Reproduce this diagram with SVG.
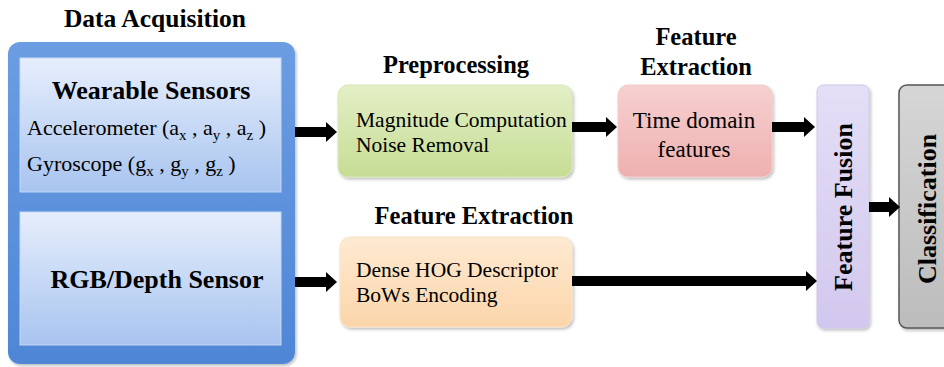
<svg xmlns="http://www.w3.org/2000/svg" width="944" height="367" viewBox="0 0 944 367">
<defs>
<linearGradient id="gOuter" x1="0" y1="0" x2="0" y2="1"><stop offset="0" stop-color="#6b9de2"/><stop offset="1" stop-color="#4f86d6"/></linearGradient>
<linearGradient id="gInner" x1="0" y1="0" x2="0" y2="1"><stop offset="0" stop-color="#e6eefc"/><stop offset="1" stop-color="#a8c4ef"/></linearGradient>
<linearGradient id="gGreen" x1="0" y1="0" x2="0" y2="1"><stop offset="0" stop-color="#e3efc6"/><stop offset="1" stop-color="#c6dd94"/></linearGradient>
<linearGradient id="gOrange" x1="0" y1="0" x2="0" y2="1"><stop offset="0" stop-color="#feead2"/><stop offset="1" stop-color="#fbd5aa"/></linearGradient>
<linearGradient id="gPink" x1="0" y1="0" x2="0" y2="1"><stop offset="0" stop-color="#f7d0d0"/><stop offset="1" stop-color="#eeb0b0"/></linearGradient>
<linearGradient id="gLav" x1="0" y1="0" x2="0" y2="1"><stop offset="0" stop-color="#e4def6"/><stop offset="1" stop-color="#d2c8ee"/></linearGradient>
<linearGradient id="gGray" x1="0" y1="0" x2="0" y2="1"><stop offset="0" stop-color="#d6d6d6"/><stop offset="1" stop-color="#bcbcbc"/></linearGradient>
<filter id="sh" x="-10%" y="-10%" width="125%" height="125%"><feDropShadow dx="1.5" dy="2" stdDeviation="1.5" flood-color="#000" flood-opacity="0.25"/></filter>
<marker id="ah" markerUnits="userSpaceOnUse" markerWidth="12" markerHeight="22" refX="0" refY="11" orient="auto"><path d="M0,1 L11,11 L0,21 Z" fill="#000"/></marker>
</defs>
<style>
.hdr{font-family:"Liberation Serif","Times New Roman",serif;font-weight:bold;font-size:24.5px;fill:#000;text-anchor:middle}
.big{font-family:"Liberation Serif","Times New Roman",serif;font-weight:bold;font-size:26px;fill:#000;text-anchor:middle}
.txt{font-family:"Liberation Serif","Times New Roman",serif;font-size:21.5px;fill:#000}
.sub{font-size:15px}
.rot{font-family:"Liberation Serif","Times New Roman",serif;font-weight:bold;font-size:26px;fill:#000;text-anchor:middle}
.conn line{stroke:#000;stroke-width:10;marker-end:url(#ah)}
</style>

<g id="data-acquisition">
<text class="hdr" x="155" y="27" style="font-size:25.5px">Data Acquisition</text>
<rect x="8" y="42" width="287" height="322" rx="12" fill="url(#gOuter)" filter="url(#sh)"/>
</g>
<g id="wearable-sensors">
<rect x="20" y="58" width="261" height="134" fill="url(#gInner)" stroke="#c6d8f5" stroke-width="1"/>
<text class="big" x="151" y="99">Wearable Sensors</text>
<text class="txt" x="27" y="135" style="font-size:22px">Accelerometer (a<tspan class="sub" dy="5">x</tspan><tspan dy="-5"> , a</tspan><tspan class="sub" dy="5">y</tspan><tspan dy="-5"> , a</tspan><tspan class="sub" dy="5">z</tspan><tspan dy="-5"> )</tspan></text>
<text class="txt" x="27" y="171" style="font-size:22px">Gyroscope (g<tspan class="sub" dy="5">x</tspan><tspan dy="-5"> , g</tspan><tspan class="sub" dy="5">y</tspan><tspan dy="-5"> , g</tspan><tspan class="sub" dy="5">z</tspan><tspan dy="-5"> )</tspan></text>
</g>
<g id="rgb-depth-sensor">
<rect x="20" y="212" width="261" height="133" fill="url(#gInner)" stroke="#c6d8f5" stroke-width="1"/>
<text class="big" x="157" y="288">RGB/Depth Sensor</text>
</g>

<g id="preprocessing">
<text class="hdr" x="456" y="73">Preprocessing</text>
<rect x="338" y="85" width="234" height="92" rx="10" fill="url(#gGreen)" stroke="#d6e6b4" filter="url(#sh)"/>
<text class="txt" x="356" y="127">Magnitude Computation</text>
<text class="txt" x="356" y="152">Noise Removal</text>
</g>

<g id="feature-extraction-visual">
<text class="hdr" x="474" y="224">Feature Extraction</text>
<rect x="340" y="237" width="232" height="90" rx="10" fill="url(#gOrange)" stroke="#fbe3c6" filter="url(#sh)"/>
<text class="txt" x="356" y="277">Dense HOG Descriptor</text>
<text class="txt" x="356" y="302">BoWs Encoding</text>
</g>

<g id="feature-extraction-wearable">
<text class="hdr" x="696" y="45">Feature</text>
<text class="hdr" x="696" y="75">Extraction</text>
<rect x="618" y="85" width="154" height="92" rx="10" fill="url(#gPink)" stroke="#f4caca" filter="url(#sh)"/>
<text class="txt" x="694" y="128" text-anchor="middle" style="font-size:23px">Time domain</text>
<text class="txt" x="694" y="157" text-anchor="middle" style="font-size:23px">features</text>
</g>

<g id="feature-fusion">
<rect x="817" y="85" width="52" height="243" rx="6" fill="url(#gLav)" stroke="#d0c8ea" filter="url(#sh)"/>
<text class="rot" transform="translate(852,207) rotate(-90)">Feature Fusion</text>
</g>

<g id="classification">
<rect x="899" y="85" width="60" height="243" rx="8" fill="url(#gGray)" stroke="#555" stroke-width="1.5" filter="url(#sh)"/>
<text class="rot" transform="translate(936,209) rotate(-90)">Classification</text>
</g>

<g id="connectors" class="conn">
<line x1="295" y1="132" x2="326" y2="132"/>
<line x1="295" y1="282" x2="326" y2="282"/>
<line x1="572" y1="127" x2="606" y2="127"/>
<line x1="772" y1="127" x2="804" y2="127"/>
<line x1="572" y1="281" x2="806" y2="281"/>
<line x1="869" y1="207" x2="889" y2="207"/>
</g>
</svg>
